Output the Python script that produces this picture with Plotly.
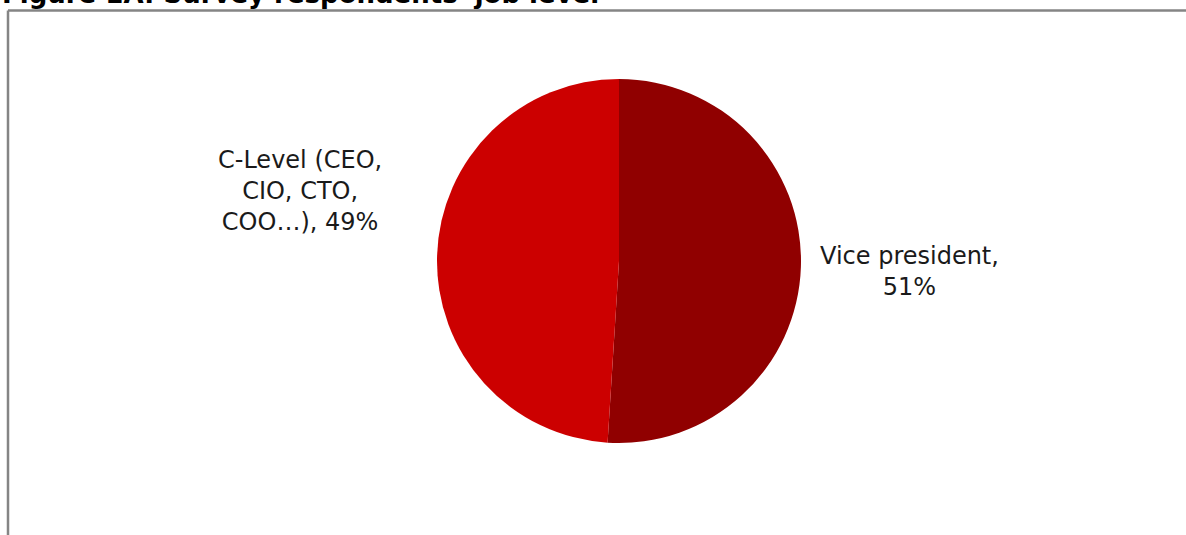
import plotly.graph_objects as go

# Job level breakdown of survey respondents
labels = ["Vice president", "C-Level (CEO, CIO, CTO, COO...)"]
values = [51, 49]
colors = ["#900000", "#cc0000"]
label_lines = ["Vice president,<br>51%", "C-Level (CEO,<br>CIO, CTO,<br>COO…), 49%"]

W, H = 1186, 535
cx, cy, r = 619, 261, 182

fig = go.Figure(
    go.Pie(
        labels=labels,
        values=values,
        marker=dict(colors=colors, line=dict(width=0)),
        sort=False,
        direction="clockwise",
        rotation=0,
        textinfo="none",
        hoverinfo="label+percent",
        domain=dict(
            x=[(cx - r) / W, (cx + r) / W],
            y=[1 - (cy + r) / H, 1 - (cy - r) / H],
        ),
        showlegend=False,
    )
)

font = dict(family="DejaVu Sans, Verdana, sans-serif", size=24, color="#1a1a1a")

# Slice labels placed beside the pie
label_pos = [(909, 271), (300, 191)]
annotations = []
for text, (x, y) in zip(label_lines, label_pos):
    annotations.append(dict(
        x=x / W, y=1 - y / H, xref="paper", yref="paper",
        text=text, showarrow=False, font=font, align="center",
        xanchor="center", yanchor="middle",
    ))

# Title sitting above the frame, partly off the top edge
annotations.append(dict(
    x=0, y=1 + 23 / H, xref="paper", yref="paper",
    text="<b>Figure 1A: Survey respondents' job level</b>",
    showarrow=False, xanchor="left", yanchor="top",
    font=dict(family="DejaVu Sans, Verdana, sans-serif", size=26, color="#000000"),
))

# Chart frame (top and left edges visible)
shapes = [
    dict(type="line", xref="paper", yref="paper",
         x0=8 / W, x1=1.01, y0=1 - 10.5 / H, y1=1 - 10.5 / H,
         line=dict(color="#858585", width=2.5)),
    dict(type="line", xref="paper", yref="paper",
         x0=8 / W, x1=8 / W, y0=1 - 10.5 / H, y1=-0.01,
         line=dict(color="#858585", width=2.5)),
]

fig.update_layout(
    width=W, height=H,
    margin=dict(l=0, r=0, t=0, b=0),
    paper_bgcolor="white",
    plot_bgcolor="white",
    annotations=annotations,
    shapes=shapes,
)

fig.write_html("out.html")
